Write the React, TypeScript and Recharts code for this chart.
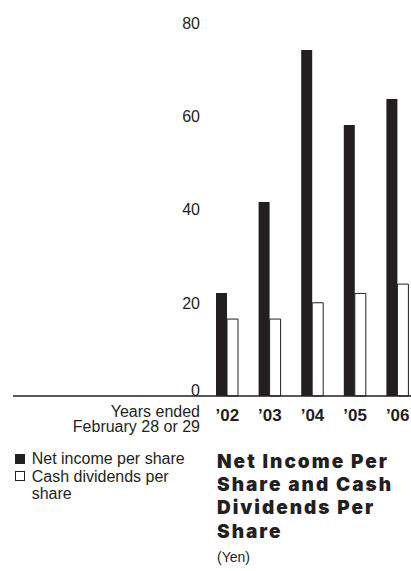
import React from "react";
import { BarChart, Bar, XAxis, YAxis, ReferenceLine } from "recharts";

const years = ["’02", "’03", "’04", "’05", "’06"];
const netIncome = [22.1, 41.6, 74.2, 58.1, 63.7];
const cashDividends = [16.5, 16.5, 20, 22, 24];
const yTicks = [0, 20, 40, 60, 80];

const INK = "#231f20";
const SANS = "'Liberation Sans', Arial, Helvetica, sans-serif";

const data = years.map((year, i) => ({
  year,
  net: netIncome[i],
  dividends: cashDividends[i],
}));

// value labels sit right-aligned just left of the first bar; the zero sits on top of the baseline
function YLabel({ viewBox, value }: any) {
  const { x, y } = viewBox;
  return (
    <text
      x={x + 187}
      y={value === 0 ? y - 6 : y}
      dy="0.36em"
      textAnchor="end"
      fontFamily={SANS}
      fontSize={16}
      fill={INK}
    >
      {value}
    </text>
  );
}

export default function App() {
  return (
    <div
      style={{
        position: "absolute",
        left: 0,
        top: 0,
        width: 411,
        height: 571,
        overflow: "hidden",
        background: "#fff",
        color: INK,
        fontFamily: SANS,
      }}
    >
      <BarChart
        width={420}
        height={440}
        data={data}
        margin={{ top: 23, right: 0, left: 13, bottom: 0 }}
        barGap={0}
        barSize={11}
      >
        <XAxis
          dataKey="year"
          height={44}
          padding={{ left: 193, right: 1 }}
          axisLine={{ stroke: INK, strokeWidth: 1.3 }}
          tickLine={false}
          tickSize={0}
          tickMargin={13}
          tick={{ fontSize: 17, fontWeight: 700, fill: INK, fontFamily: SANS }}
          interval={0}
        />
        <YAxis hide domain={[0, 80]} ticks={yTicks} />
        {yTicks.map((t) => (
          <ReferenceLine
            key={t}
            y={t}
            stroke="none"
            label={(p: any) => <YLabel {...p} value={t} />}
          />
        ))}
        <Bar dataKey="net" name="Net income per share" fill={INK} isAnimationActive={false} />
        <Bar
          dataKey="dividends"
          name="Cash dividends per share"
          fill="#fff"
          stroke={INK}
          strokeWidth={1}
          isAnimationActive={false}
        />
      </BarChart>

      <div
        style={{
          position: "absolute",
          left: 0,
          top: 403.5,
          width: 200,
          textAlign: "right",
          fontSize: 16,
          lineHeight: "15.5px",
        }}
      >
        Years ended
        <br />
        February 28 or 29
      </div>

      <div style={{ position: "absolute", left: 15, top: 450.4, fontSize: 16, lineHeight: "17.5px" }}>
        <div style={{ display: "flex", alignItems: "flex-start" }}>
          <span style={{ width: 10, height: 10, marginTop: 3.5, background: INK, flex: "none" }} />
          <span style={{ marginLeft: 6.7 }}>Net income per share</span>
        </div>
        <div style={{ display: "flex", alignItems: "flex-start" }}>
          <span
            style={{
              width: 10,
              height: 10,
              marginTop: 3.2,
              boxSizing: "border-box",
              border: `1px solid ${INK}`,
              background: "#fff",
              flex: "none",
            }}
          />
          <span style={{ marginLeft: 6.7, width: 160 }}>
            Cash dividends per
            <br />
            share
          </span>
        </div>
      </div>

      <div
        style={{
          position: "absolute",
          left: 217,
          top: 449.7,
          fontFamily: "Inter, 'DejaVu Sans', sans-serif",
          fontWeight: 900,
          fontSize: 19,
          letterSpacing: 2,
          lineHeight: "23.3px",
          whiteSpace: "nowrap",
        }}
      >
        Net Income Per
        <br />
        Share and Cash
        <br />
        Dividends Per
        <br />
        Share
      </div>
      <div style={{ position: "absolute", left: 217, top: 549, fontSize: 14, lineHeight: "16px" }}>(Yen)</div>
    </div>
  );
}
